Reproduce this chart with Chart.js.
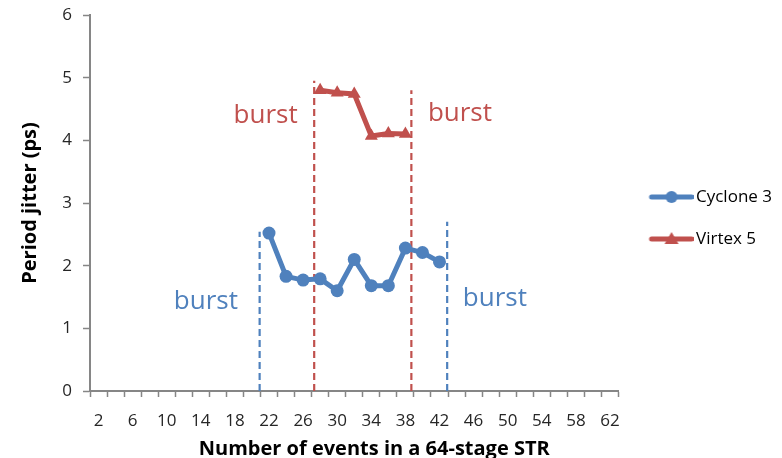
<!DOCTYPE html>
<html>
<head>
<meta charset="utf-8">
<script src="https://cdn.jsdelivr.net/npm/chart.js@4"></script>
<style>
  html, body { margin: 0; padding: 0; background: #fff; }
  #wrap { width: 782px; height: 458px; }
</style>
</head>
<body>
<div id="wrap"><canvas id="jitterChart" width="782" height="458"></canvas></div>
<script>
// x categories (number of events) and values
const cycloneEvents = [22, 24, 26, 28, 30, 32, 34, 36, 38, 40, 42];
const cycloneJitter = [2.52, 1.83, 1.77, 1.79, 1.60, 2.10, 1.68, 1.68, 2.28, 2.21, 2.06];

const virtexEvents = [28, 30, 32, 34, 36, 38];
const virtexJitter = [4.80, 4.76, 4.74, 4.07, 4.11, 4.10];

// category axis: every even event count, label every other one
const xCategories = [2, 4, 6, 8, 10, 12, 14, 16, 18, 20, 22, 24, 26, 28, 30, 32,
  34, 36, 38, 40, 42, 44, 46, 48, 50, 52, 54, 56, 58, 60, 62];
const xTickLabels = [2, 6, 10, 14, 18, 22, 26, 30, 34, 38, 42, 46, 50, 54, 58, 62];
const yTickLabels = [0, 1, 2, 3, 4, 5, 6];

// burst boundaries: [x, top of dashed line]
const cycloneBurst = [[20.9, 2.54], [42.9, 2.70]];
const virtexBurst = [[27.3, 4.95], [38.7, 4.80]];

// text labels in data units
const burstLabels = [
  { text: 'burst', x: 21.6, y: 4.39, series: 1 },
  { text: 'burst', x: 44.4, y: 4.43, series: 1 },
  { text: 'burst', x: 14.6, y: 1.42, series: 0 },
  { text: 'burst', x: 48.5, y: 1.47, series: 0 }
];

const xTitle = 'Number of events in a 64-stage STR';

const BLUE = '#4F81BD';
const RED = '#C0504D';
const AXIS = '#868686';

Chart.defaults.font.family = "'Open Sans', sans-serif";
Chart.defaults.color = '#262626';

function legendIcon(color, shape) {
  const c = document.createElement('canvas');
  c.width = 56;
  c.height = 18;
  const g = c.getContext('2d');
  g.strokeStyle = color;
  g.fillStyle = color;
  g.lineWidth = 5;
  g.lineCap = 'round';
  g.beginPath();
  g.moveTo(14, 9);
  g.lineTo(54, 9);
  g.stroke();
  g.beginPath();
  if (shape === 'circle') {
    g.arc(34, 9, 6, 0, Math.PI * 2);
  } else {
    g.moveTo(34, 2);
    g.lineTo(41, 14);
    g.lineTo(27, 14);
    g.closePath();
  }
  g.fill();
  return c;
}
const legendIcons = [legendIcon(BLUE, 'circle'), legendIcon(RED, 'triangle')];

const xy = (xs, ys) => xs.map((x, i) => ({ x, y: ys[i] }));
const dashed = (pos, color) => ({
  data: [{ x: pos[0], y: 0 }, { x: pos[0], y: pos[1] }],
  borderColor: color,
  borderWidth: 2.2,
  borderDash: [7, 4],
  pointRadius: 0,
  order: 5
});

const burstText = {
  id: 'burstText',
  afterDatasetsDraw(chart) {
    const { ctx, scales } = chart;
    ctx.save();
    ctx.font = "26px 'Open Sans', sans-serif";
    ctx.textAlign = 'center';
    ctx.textBaseline = 'middle';
    burstLabels.forEach(b => {
      ctx.fillStyle = b.series === 0 ? BLUE : RED;
      ctx.fillText(b.text, scales.x.getPixelForValue(b.x), scales.y.getPixelForValue(b.y));
    });
    ctx.restore();
  },
  // x title sits a little right of the plot centre, as in the original
  afterDraw(chart) {
    const { ctx, chartArea } = chart;
    ctx.save();
    ctx.font = "bold 20px 'Open Sans', sans-serif";
    ctx.fillStyle = '#000';
    ctx.textAlign = 'center';
    ctx.textBaseline = 'middle';
    ctx.fillText(xTitle, (chartArea.left + chartArea.right) / 2 + 20, 449);
    ctx.restore();
  }
};

// tick marks sit on category boundaries, labels on category centres
const boundaries = xCategories.map(c => c - 1).concat([xCategories[xCategories.length - 1] + 1]);
const xTickValues = boundaries.concat(xTickLabels).sort((a, b) => a - b);

new Chart(document.getElementById('jitterChart'), {
  type: 'line',
  data: {
    datasets: [
      {
        label: 'Cyclone 3',
        data: xy(cycloneEvents, cycloneJitter),
        borderColor: BLUE,
        backgroundColor: BLUE,
        borderWidth: 5,
        pointStyle: 'circle',
        pointRadius: 6.5,
        pointBorderWidth: 0,
        order: 1
      },
      {
        label: 'Virtex 5',
        data: xy(virtexEvents, virtexJitter),
        borderColor: RED,
        backgroundColor: RED,
        borderWidth: 5,
        pointStyle: 'triangle',
        pointRadius: 7.5,
        pointBorderWidth: 0,
        order: 0
      },
      dashed(cycloneBurst[0], BLUE),
      dashed(cycloneBurst[1], BLUE),
      dashed(virtexBurst[0], RED),
      dashed(virtexBurst[1], RED)
    ]
  },
  options: {
    responsive: false,
    animation: false,
    layout: { padding: { top: 0, bottom: 22, left: 0, right: 0 } },
    plugins: {
      tooltip: { enabled: false },
      legend: {
        position: 'right',
        labels: {
          usePointStyle: true,
          pointStyleWidth: 44,
          padding: 25,
          color: '#000',
          font: { size: 17 },
          sort: (a, b) => a.datasetIndex - b.datasetIndex,
          generateLabels(chart) {
            const items = Chart.defaults.plugins.legend.labels.generateLabels(chart);
            return items
              .filter(it => it.datasetIndex < 2)
              .map(it => Object.assign(it, { pointStyle: legendIcons[it.datasetIndex] }));
          }
        }
      }
    },
    scales: {
      x: {
        type: 'linear',
        min: boundaries[0],
        max: boundaries[boundaries.length - 1],
        afterBuildTicks(scale) {
          scale.ticks = xTickValues.map(v => ({ value: v }));
        },
        afterFit(scale) { scale.height = 45; },
        ticks: {
          autoSkip: false,
          maxRotation: 0,
          minRotation: 0,
          padding: 14,
          font: { size: 17 },
          callback: v => (xTickLabels.includes(v) ? String(v) : '')
        },
        grid: {
          drawOnChartArea: false,
          tickLength: 6,
          tickWidth: 1.5,
          tickColor: ctx => (ctx.tick && ctx.tick.value % 2 === 1 ? AXIS : 'rgba(0,0,0,0)')
        },
        border: { color: AXIS, width: 2 },
        title: { display: false }
      },
      y: {
        min: yTickLabels[0],
        max: yTickLabels[yTickLabels.length - 1],
        afterFit(scale) {
          scale.width = 90;
          scale.paddingTop = 15;
        },
        ticks: { stepSize: 1, padding: 11, font: { size: 17 } },
        grid: {
          drawOnChartArea: false,
          tickLength: 7,
          tickWidth: 1.5,
          tickColor: AXIS
        },
        border: { color: AXIS, width: 2 },
        title: {
          display: true,
          text: 'Period jitter (ps)',
          color: '#000',
          font: { size: 20, weight: 'bold' },
          padding: { top: 18, bottom: 0 }
        }
      }
    }
  },
  plugins: [burstText]
});
</script>
</body>
</html>
